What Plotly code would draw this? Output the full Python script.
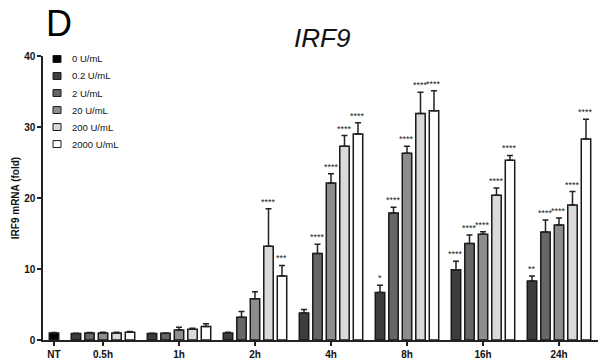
import plotly.graph_objects as go

# ---- data ---------------------------------------------------------------
timepoints = ["0.5h", "1h", "2h", "4h", "8h", "16h", "24h"]
doses = ["0.2 U/mL", "2 U/mL", "20 U/mL", "200 U/mL", "2000 U/mL"]

nt_label = "NT"
nt_name = "0 U/mL"
nt_value = 1.0
nt_error = 0.05

# mean fold change per dose across timepoints
mean_02 = [0.9, 0.9, 1.0, 3.8, 6.7, 9.9, 8.3]
mean_2 = [1.0, 0.95, 3.2, 12.2, 17.9, 13.6, 15.2]
mean_20 = [1.0, 1.4, 5.8, 22.1, 26.3, 14.9, 16.2]
mean_200 = [1.0, 1.5, 13.2, 27.3, 31.9, 20.4, 19.0]
mean_2000 = [1.1, 1.9, 9.0, 29.0, 32.3, 25.3, 28.3]

# upper error (SEM)
err_02 = [0.05, 0.05, 0.1, 0.5, 1.0, 1.2, 0.7]
err_2 = [0.05, 0.05, 0.8, 1.3, 0.8, 1.2, 1.7]
err_20 = [0.1, 0.4, 1.0, 1.3, 1.0, 0.35, 1.0]
err_200 = [0.1, 0.15, 5.3, 1.5, 3.0, 1.0, 1.9]
err_2000 = [0.1, 0.4, 1.5, 1.6, 2.8, 0.7, 2.8]

# significance vs NT
sig_02 = ["", "", "", "", "*", "****", "**"]
sig_2 = ["", "", "", "****", "****", "****", "****"]
sig_20 = ["", "", "", "****", "****", "****", "****"]
sig_200 = ["", "", "****", "****", "****", "****", "****"]
sig_2000 = ["", "", "***", "****", "****", "****", "****"]

means = [mean_02, mean_2, mean_20, mean_200, mean_2000]
errors = [err_02, err_2, err_20, err_200, err_2000]
sigs = [sig_02, sig_2, sig_20, sig_200, sig_2000]

# ---- styling -------------------------------------------------------------
nt_color = "#000000"
dose_colors = ["#3d3d3d", "#666666", "#8e8e8e", "#dadada", "#ffffff"]
edge = "#1a1a1a"
font_family = "Liberation Sans, Arial, sans-serif"

W, H = 600, 362
M_L, M_R, M_T, M_B = 43, 2, 56, 19
PLOT_W = W - M_L - M_R
PLOT_H = H - M_T - M_B


def px_x(px):
    return (px - M_L) / PLOT_W


def px_y(py):
    return (H - M_B - py) / PLOT_H


# bar layout: NT bar at 0, then groups of 5 bars with an extra gap between groups
group_gap = 0.63
group_pitch = len(doses) + group_gap
first_group = 1 + group_gap


def bar_pos(g, k):
    return first_group + g * group_pitch + k


err_style = dict(type="data", symmetric=False, color="#222", thickness=1.5, width=3)

fig = go.Figure()

# NT (0 U/mL)
fig.add_trace(go.Bar(
    x=[0], y=[nt_value], width=0.7, name=nt_name,
    marker=dict(color=nt_color, line=dict(color=edge, width=1.5)),
    error_y=dict(array=[nt_error], arrayminus=[0], **err_style),
    showlegend=False, hoverinfo="skip",
))

for k, (name, vals, errs, col) in enumerate(zip(doses, means, errors, dose_colors)):
    xs = [bar_pos(g, k) for g in range(len(timepoints))]
    fig.add_trace(go.Bar(
        x=xs, y=vals, width=0.7, name=name,
        marker=dict(color=col, line=dict(color=edge, width=1.5)),
        error_y=dict(array=errs, arrayminus=[0] * len(errs), **err_style),
        showlegend=False, hoverinfo="skip",
    ))
    for g, lab in enumerate(sigs[k]):
        if lab:
            fig.add_annotation(
                x=xs[g], y=vals[g] + errs[g], text=lab, showarrow=False,
                yanchor="bottom", yshift=0,
                font=dict(family=font_family, size=9, color="#222"),
            )

# key: swatch + label per dose, stacked top to bottom
legend_names = [nt_name] + doses
legend_colors = [nt_color] + dose_colors
key_top, key_step = 59, 17.2
for i, (nm, col) in enumerate(zip(legend_names, legend_colors)):
    cy = key_top + i * key_step
    fig.add_shape(type="rect", xref="paper", yref="paper",
                  x0=px_x(53), x1=px_x(61), y0=px_y(cy + 3.5), y1=px_y(cy - 3.5),
                  fillcolor=col, line=dict(color=edge, width=1))
    fig.add_annotation(xref="paper", yref="paper", x=px_x(70), y=px_y(cy),
                       xanchor="left", yanchor="middle", showarrow=False, text=nm,
                       font=dict(size=9.5, family=font_family, color="#111"))

tick_pos = [0] + [bar_pos(g, 2) for g in range(len(timepoints))]
tick_text = [nt_label] + timepoints

fig.update_layout(
    width=W, height=H,
    margin=dict(l=M_L, r=M_R, t=M_T, b=M_B),
    paper_bgcolor="white", plot_bgcolor="white",
    barmode="overlay", showlegend=False,
    font=dict(family=font_family, color="#111"),
    xaxis=dict(range=[-0.815, 40.3], tickvals=tick_pos, ticktext=tick_text,
               showline=True, linecolor="#222", linewidth=1.5,
               ticks="outside", ticklen=4, tickwidth=1.5, tickcolor="#222",
               tickfont=dict(size=10, weight="bold", family=font_family, color="#111"),
               showgrid=False, zeroline=False, fixedrange=True),
    yaxis=dict(range=[0, 40], tickvals=[0, 10, 20, 30, 40],
               showline=True, linecolor="#222", linewidth=1.5,
               ticks="outside", ticklen=4, tickwidth=1.5, tickcolor="#222",
               tickfont=dict(size=10, weight="bold", family=font_family, color="#111"),
               title=dict(text="IRF9 mRNA (fold)", standoff=3,
                          font=dict(size=10, weight="bold", family=font_family, color="#111")),
               showgrid=False, zeroline=False),
)

fig.add_annotation(xref="paper", yref="paper", x=px_x(322), y=px_y(37.5),
                   xanchor="center", yanchor="middle", showarrow=False,
                   text="<i>IRF9</i>", font=dict(size=26, family=font_family, color="#111"))
fig.add_annotation(xref="paper", yref="paper", x=px_x(44), y=px_y(23),
                   xanchor="left", yanchor="middle", showarrow=False,
                   text="D", font=dict(size=36, family=font_family, color="#000"))

fig.write_html("out.html")
